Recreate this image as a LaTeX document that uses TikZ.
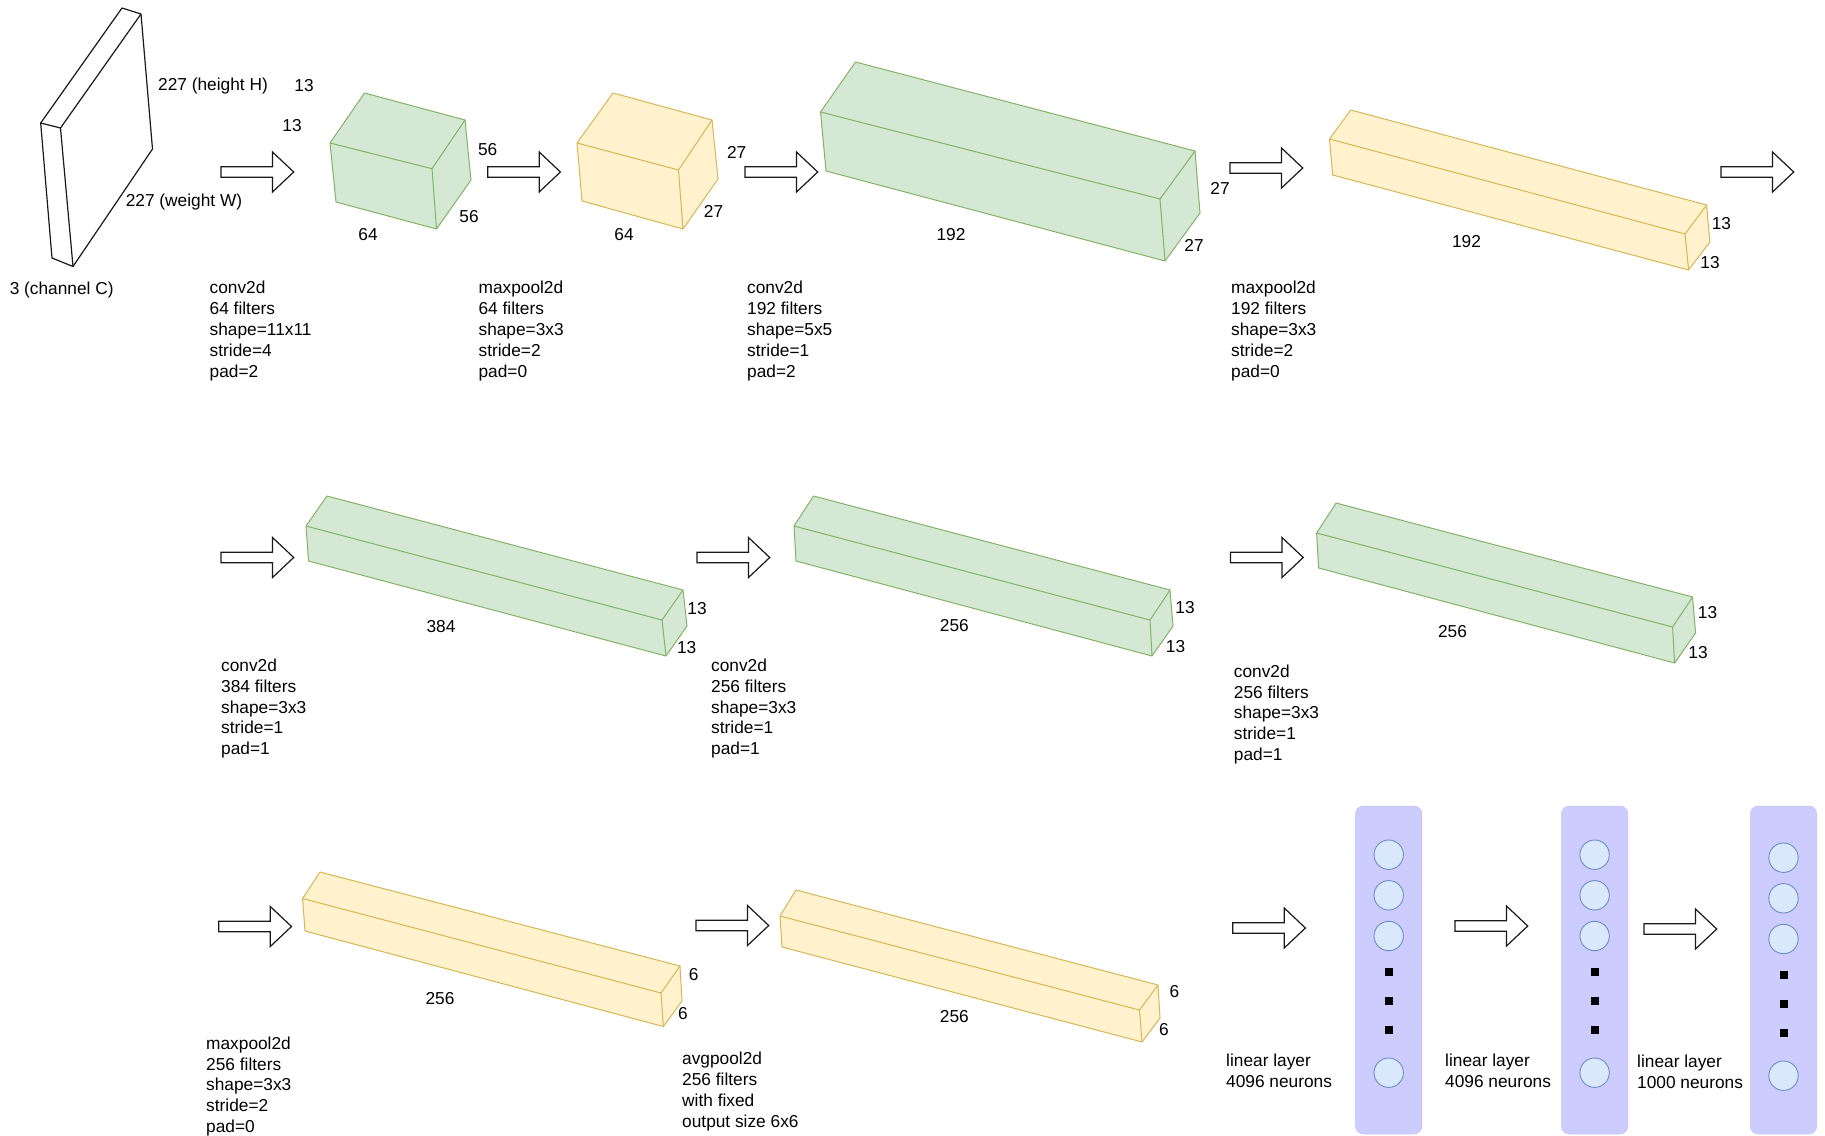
\documentclass[tikz,border=0pt]{standalone}
\usepackage{fontspec}
\setmainfont{Liberation Sans}
\definecolor{gfill}{HTML}{D5E8D4}
\definecolor{gline}{HTML}{82B366}
\definecolor{yfill}{HTML}{FFF2CC}
\definecolor{yline}{HTML}{D6B656}
\definecolor{pfill}{HTML}{CCCCFF}
\definecolor{cfill}{HTML}{DAE8FC}
\definecolor{cline}{HTML}{6C8EBF}
\newcommand{\cuboidB}[8]{%
  \filldraw[#1] #2 -- #6 -- #7 -- #8 -- #4 -- #5 -- cycle;
  \draw[#1,fill=none] #2 -- #3 -- #4 #3 -- #7;
}
\newcommand{\blockarrow}[2]{%
  \draw[blockarrowstyle] (#1,#2-5.3) -- (#1+51.5,#2-5.3) -- (#1+51.5,#2-20) -- (#1+72.7,#2)
    -- (#1+51.5,#2+20) -- (#1+51.5,#2+5.3) -- (#1,#2+5.3) -- cycle;
}
\newcommand{\panel}[3]{% name, left x, circle offset y
  \pgfmathsetmacro{\cx}{#2+33.2}
  \node[panelbox] (#1) at (\cx,970) {};
  \foreach \yy/\nn in {854.7/a,895.3/b,936/c,1072.7/d}{
    \node[neuron] (#1\nn) at (\cx,\yy+#3) {};
  }
  \foreach \yy/\nn in {971.7/e,1000.7/f,1029.7/g}{
    \node[dotmark] (#1\nn) at (\cx,\yy+#3) {};
  }
}
\tikzset{
  greenbox/.style={fill=gfill,draw=gline,line width=1pt,line join=round},
  yellowbox/.style={fill=yfill,draw=yline,line width=1pt,line join=round},
  slab/.style={fill=white,draw=black!90,line width=1.2pt,line join=round},
  blockarrowstyle/.style={fill=white,draw=black!90,line width=1.2pt,line join=miter},
  panelbox/.style={fill=pfill,draw=pfill!90!gray,line width=0.5pt,rounded corners=8pt,minimum width=66.5pt,minimum height=328pt,inner sep=0pt},
  neuron/.style={circle,fill=cfill,draw=cline,line width=0.9pt,minimum size=29.4pt,inner sep=0pt},
  dotmark/.style={rectangle,fill=black,minimum size=8pt,inner sep=0pt},
  lbl/.style={inner sep=0pt,yshift=-1pt,font=\fontsize{17.3}{20.85}\selectfont},
  desc/.style={lbl,anchor=west,align=left},
}
\begin{document}
\begin{tikzpicture}[x=1pt,y=-1pt]
\useasboundingbox (0,0) rectangle (1825,1135);
% input slab
\cuboidB{slab}{(40.7,123)}{(60.5,128)}{(73,266.5)}{(52,258)}{(122,8)}{(141,14)}{(152.5,149)}
% row 1
\cuboidB{greenbox}{(330,143)}{(432,168.7)}{(436.5,229)}{(336,202)}{(364.5,93)}{(465,120)}{(471,180)}
\cuboidB{yellowbox}{(577,143)}{(678.5,170)}{(683,229)}{(582,201)}{(613,93)}{(712,120)}{(718,179)}
\cuboidB{greenbox}{(820.5,112)}{(1160,199)}{(1165,261)}{(826,171)}{(855.5,62)}{(1195,151)}{(1200,213)}
\cuboidB{yellowbox}{(1329.5,139)}{(1685,234)}{(1688.6,270)}{(1332.7,175)}{(1350.7,110)}{(1706.6,205)}{(1709.8,242)}
% row 2
\cuboidB{greenbox}{(306,526)}{(662,620)}{(666,656)}{(308.5,561)}{(327,496)}{(683,590)}{(687,626)}
\cuboidB{greenbox}{(794,526)}{(1150,620)}{(1152,656)}{(796,561)}{(813.5,496)}{(1170,590)}{(1173,626)}
\cuboidB{greenbox}{(1316.6,533)}{(1672.6,627)}{(1674.6,663)}{(1318.6,568)}{(1336.1,503)}{(1692.6,597)}{(1695.6,633)}
% row 3
\cuboidB{yellowbox}{(302.6,898.5)}{(661,993)}{(663.4,1026.5)}{(305,931)}{(320,872)}{(680,966)}{(682,1001)}
\cuboidB{yellowbox}{(780,916)}{(1139.5,1010)}{(1142,1042)}{(782,947)}{(796,890)}{(1158,985)}{(1160,1018)}
% arrows
\blockarrow{221}{172}
\blockarrow{487.7}{172}
\blockarrow{745}{172}
\blockarrow{1230}{168}
\blockarrow{1721}{172}
\blockarrow{221}{557.5}
\blockarrow{697}{557.5}
\blockarrow{1230.5}{557.5}
\blockarrow{218.8}{926.5}
\blockarrow{696}{925.5}
\blockarrow{1232.7}{928}
\blockarrow{1455}{926}
\blockarrow{1644}{929}
% panels
\panel{pa}{1355.5}{0}
\panel{pb}{1561.4}{0}
\panel{pc}{1750.3}{3}
% free labels
\node[lbl] (l1) at (213,85) {227 (height H)};
\node[lbl] (l2) at (304,85) {13};
\node[lbl] (l3) at (292,124.5) {13};
\node[lbl] (l4) at (184,201) {227 (weight W)};
\node[lbl] (l5) at (61.7,288.6) {3 (channel C)};
\node[lbl] (a1) at (487.7,149) {56};
\node[lbl] (a2) at (469,215.3) {56};
\node[lbl] (a3) at (368,234) {64};
\node[lbl] (b1) at (624,234) {64};
\node[lbl] (b2) at (736.7,151) {27};
\node[lbl] (b3) at (713.5,210.7) {27};
\node[lbl] (c1) at (951,234) {192};
\node[lbl] (c2) at (1220,187.4) {27};
\node[lbl] (c3) at (1194,244.4) {27};
\node[lbl] (d1) at (1466.5,241) {192};
\node[lbl] (d2) at (1721.4,222.3) {13};
\node[lbl] (d3) at (1710,262) {13};
\node[lbl] (e1) at (441,626) {384};
\node[lbl] (e2) at (697,607.5) {13};
\node[lbl] (e3) at (686.7,647) {13};
\node[lbl] (f1) at (954.4,625) {256};
\node[lbl] (f2) at (1185,606.4) {13};
\node[lbl] (f3) at (1175.5,646) {13};
\node[lbl] (g1) at (1452.5,631) {256};
\node[lbl] (g2) at (1707.5,612) {13};
\node[lbl] (g3) at (1698,652) {13};
\node[lbl] (h1) at (440,997.5) {256};
\node[lbl] (h2) at (693.7,974) {6};
\node[lbl] (h3) at (683,1012.6) {6};
\node[lbl] (i1) at (954.4,1016) {256};
\node[lbl] (i2) at (1174.4,990.5) {6};
\node[lbl] (i3) at (1164,1029) {6};
% descriptions
\node[desc] (t1) at (209.5,330) {conv2d\\64 filters\\shape=11x11\\stride=4\\pad=2};
\node[desc] (t2) at (478.4,330) {maxpool2d\\64 filters\\shape=3x3\\stride=2\\pad=0};
\node[desc] (t3) at (747,330) {conv2d\\192 filters\\shape=5x5\\stride=1\\pad=2};
\node[desc] (t4) at (1231,330) {maxpool2d\\192 filters\\shape=3x3\\stride=2\\pad=0};
\node[desc] (t5) at (221,707.6) {conv2d\\384 filters\\shape=3x3\\stride=1\\pad=1};
\node[desc] (t6) at (711,707.6) {conv2d\\256 filters\\shape=3x3\\stride=1\\pad=1};
\node[desc] (t7) at (1233.7,713.5) {conv2d\\256 filters\\shape=3x3\\stride=1\\pad=1};
\node[desc] (t8) at (206,1085.4) {maxpool2d\\256 filters\\shape=3x3\\stride=2\\pad=0};
\node[desc] (t9) at (682,1090.6) {avgpool2d\\256 filters\\with fixed\\output size 6x6};
\node[desc] (t10) at (1226,1070) {linear layer\\4096 neurons};
\node[desc] (t11) at (1445,1070) {linear layer\\4096 neurons};
\node[desc] (t12) at (1637,1071) {linear layer\\1000 neurons};
\end{tikzpicture}
\end{document}
